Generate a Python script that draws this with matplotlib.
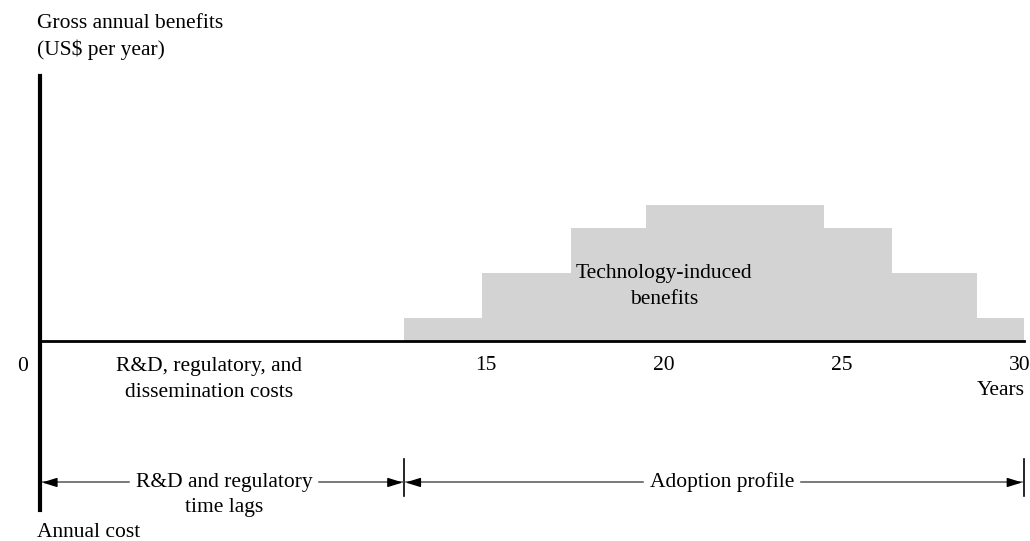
import matplotlib
matplotlib.use("Agg")
import matplotlib.pyplot as plt

plt.rcParams['font.family'] = ['Liberation Serif', 'DejaVu Serif']

# ---- data ----
step_edges = [12.7, 14.9, 17.4, 19.5, 24.5, 26.4, 28.8, 30.1]   # years
benefits = [1, 3, 5, 6, 5, 3, 1]                                 # relative gross annual benefits
xtick_years = [15, 20, 25, 30]
xtick_labels = ["15", "20", "25", "30"]
axis_start = 2.47      # year position of the vertical axis
lag_end = 12.7         # end of R&D and regulatory time lags
horizon_end = 30.1     # end of adoption profile

GRAY = "#d3d3d3"
FS = 15.5

fig = plt.figure(figsize=(10.30, 5.41), dpi=100)
ax = fig.add_axes([0, 0, 1, 1])
ax.set_xlim(1.348, 30.28)
ax.set_ylim(-8.85, 15.09)
ax.patch.set_visible(False)

# stepped benefits area
for i, h in enumerate(benefits):
    ax.fill_between([step_edges[i], step_edges[i + 1]], 0, h, color=GRAY, lw=0, zorder=1)

# spines as the axes
for s in ['top', 'right']:
    ax.spines[s].set_visible(False)
ax.spines['bottom'].set_position(('data', 0))
ax.spines['bottom'].set_bounds(axis_start, horizon_end)
ax.spines['bottom'].set_linewidth(2.0)
ax.spines['bottom'].set_zorder(3)
ax.spines['left'].set_position(('data', axis_start))
ax.spines['left'].set_bounds(-7.49, 11.72)
ax.spines['left'].set_linewidth(3.0)
ax.spines['left'].set_zorder(3)

ax.set_xticks(xtick_years)
ax.set_xticklabels(xtick_labels)
ax.set_yticks([])
ax.tick_params(axis='x', length=0, pad=11, labelsize=FS)

# texts
ax.text(1.99, -1.15, "0", ha='center', va='center', fontsize=FS)
ax.text(2.39, 14.05, "Gross annual benefits", ha='left', va='center', fontsize=FS)
ax.text(2.39, 12.9, "(US$ per year)", ha='left', va='center', fontsize=FS)
ax.text(2.39, -8.46, "Annual cost", ha='left', va='center', fontsize=FS)
ax.text(7.22, -1.15, "R&D, regulatory, and", ha='center', va='center', fontsize=FS)
ax.text(7.22, -2.29, "dissemination costs", ha='center', va='center', fontsize=FS)
ax.text(20.0, 3.0, "Technology-induced", ha='center', va='center', fontsize=FS)
ax.text(20.0, 1.85, "benefits", ha='center', va='center', fontsize=FS)
ax.text(30.14, -2.2, "Years", ha='right', va='center', fontsize=FS)

yA = -6.26
t1 = ax.text(7.64, yA, "R&D and regulatory", ha='center', va='center', fontsize=FS)
ax.text(7.64, -7.35, "time lags", ha='center', va='center', fontsize=FS)
t2 = ax.text(21.63, yA, "Adoption profile", ha='center', va='center', fontsize=FS)

# vertical bar markers
for xv in [lag_end, horizon_end]:
    ax.plot([xv, xv], [-5.2, -6.87], color='black', lw=1.2, zorder=3)

fig.canvas.draw()
inv = ax.transData.inverted()
def text_span(t):
    bb = t.get_window_extent()
    x0 = inv.transform((bb.x0, bb.y0))[0]
    x1 = inv.transform((bb.x1, bb.y0))[0]
    return x0, x1

gap = 0.2
a0, a1 = text_span(t1)
b0, b1 = text_span(t2)
head_kw = dict(arrowstyle='-|>,head_length=0.9,head_width=0.28', color='black', lw=1.0,
               shrinkA=0, shrinkB=0)
head_len = 0.35  # years
segments = [((a0 - gap), axis_start + 0.06), ((a1 + gap), lag_end - 0.04),
            ((b0 - gap), lag_end + 0.04), ((b1 + gap), horizon_end - 0.04)]
for start, end in segments:
    ax.plot([start, end], [yA, yA], color='#555555', lw=1.1, zorder=3)
    direction = 1 if end > start else -1
    ax.annotate("", xy=(end, yA), xytext=(end - direction * head_len, yA),
                arrowprops=head_kw, zorder=4)

fig.savefig("out.png", dpi=100)
